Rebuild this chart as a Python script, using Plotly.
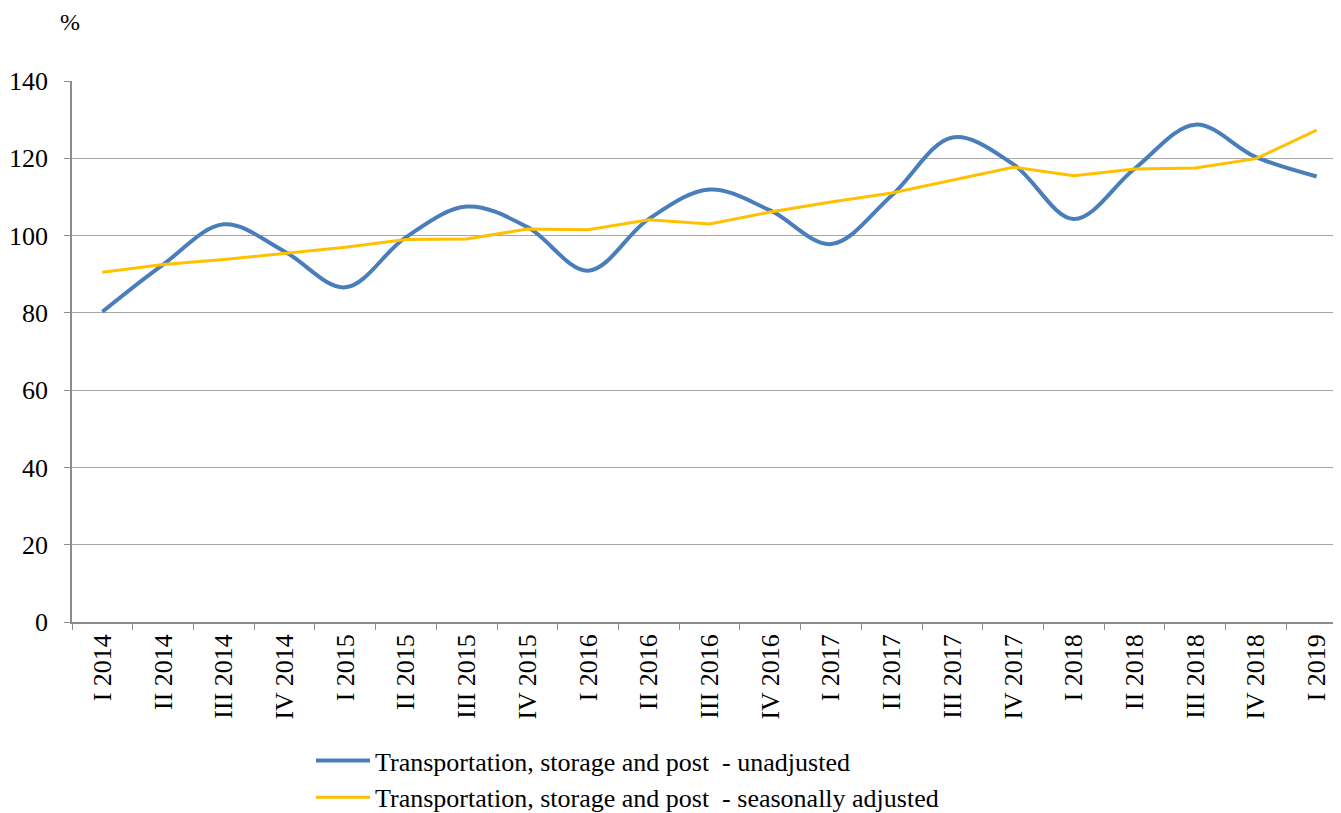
import plotly.graph_objects as go

categories = ["I 2014", "II 2014", "III 2014", "IV 2014",
              "I 2015", "II 2015", "III 2015", "IV 2015",
              "I 2016", "II 2016", "III 2016", "IV 2016",
              "I 2017", "II 2017", "III 2017", "IV 2017",
              "I 2018", "II 2018", "III 2018", "IV 2018",
              "I 2019"]

unadjusted = [80.3, 92.5, 102.9, 95.9, 86.6, 99.6, 107.5, 102.2, 90.9, 104.3,
              111.9, 106.5, 97.8, 110.4, 125.4, 118.5, 104.3, 117.3, 128.7, 120.3,
              115.3]

seasonally_adjusted = [90.5, 92.5, 93.8, 95.4, 97.0, 99.0, 99.1, 101.7, 101.5, 104.1,
                       103.0, 106.1, 108.7, 111.0, 114.3, 117.7, 115.5, 117.2, 117.5, 119.9,
                       127.3]

y_ticks = [0, 20, 40, 60, 80, 100, 120, 140]

name_unadj = "Transportation, storage and post  - unadjusted"
name_sa = "Transportation, storage and post  - seasonally adjusted"

FONT = "Liberation Serif, Times New Roman, serif"

fig = go.Figure()
fig.add_trace(go.Scatter(
    x=categories, y=unadjusted, mode="lines", name=name_unadj,
    line=dict(color="#4A7EBB", width=4, shape="spline", smoothing=1.0),
))
fig.add_trace(go.Scatter(
    x=categories, y=seasonally_adjusted, mode="lines", name=name_sa,
    line=dict(color="#FFC000", width=3),
))

# page body has an 8px default margin; figure coordinates are page - 8
W, H = 1333, 805
ml, mr, mt, mb = 64, 0, 73, 191
PW = W - ml - mr
PH = H - mt - mb

fig.update_layout(
    width=W, height=H,
    margin=dict(l=ml, r=mr, t=mt, b=mb, autoexpand=False),
    paper_bgcolor="white", plot_bgcolor="white",
    font=dict(family=FONT, size=26, color="black"),
    showlegend=True,
    legend=dict(
        orientation="v",
        x=(303 - ml) / PW, xanchor="left",
        y=(H - mb - 729) / PH, yanchor="top",
        font=dict(family=FONT, size=26, color="black"),
        bgcolor="rgba(0,0,0,0)",
        tracegroupgap=0,
        itemwidth=54,
    ),
    annotations=[dict(
        text="%", x=(62 - ml) / PW, y=(H - mb - 14) / PH,
        xref="paper", yref="paper", showarrow=False,
        xanchor="center", yanchor="middle",
        font=dict(family=FONT, size=24, color="black"),
    )],
)

fig.update_xaxes(
    type="category",
    categoryorder="array", categoryarray=categories,
    range=[-0.5, 20.4],
    tickangle=-90,
    tickson="boundaries",
    ticks="outside", ticklen=6, tickcolor="#8c8c8c",
    showline=True, linecolor="#8c8c8c", linewidth=1.5,
    showgrid=False,
    tickfont=dict(family=FONT, size=26, color="black"),
)

fig.update_yaxes(
    range=[0, 140],
    tickvals=y_ticks,
    ticktext=[str(v) for v in y_ticks],
    ticks="outside", ticklen=6, tickcolor="#8c8c8c",
    showline=True, linecolor="#8c8c8c", linewidth=1.5,
    showgrid=True, gridcolor="#a6a6a6", gridwidth=1,
    zeroline=False,
    ticklabelstandoff=11,
    tickfont=dict(family=FONT, size=26, color="black"),
)

fig.write_html("out.html")
